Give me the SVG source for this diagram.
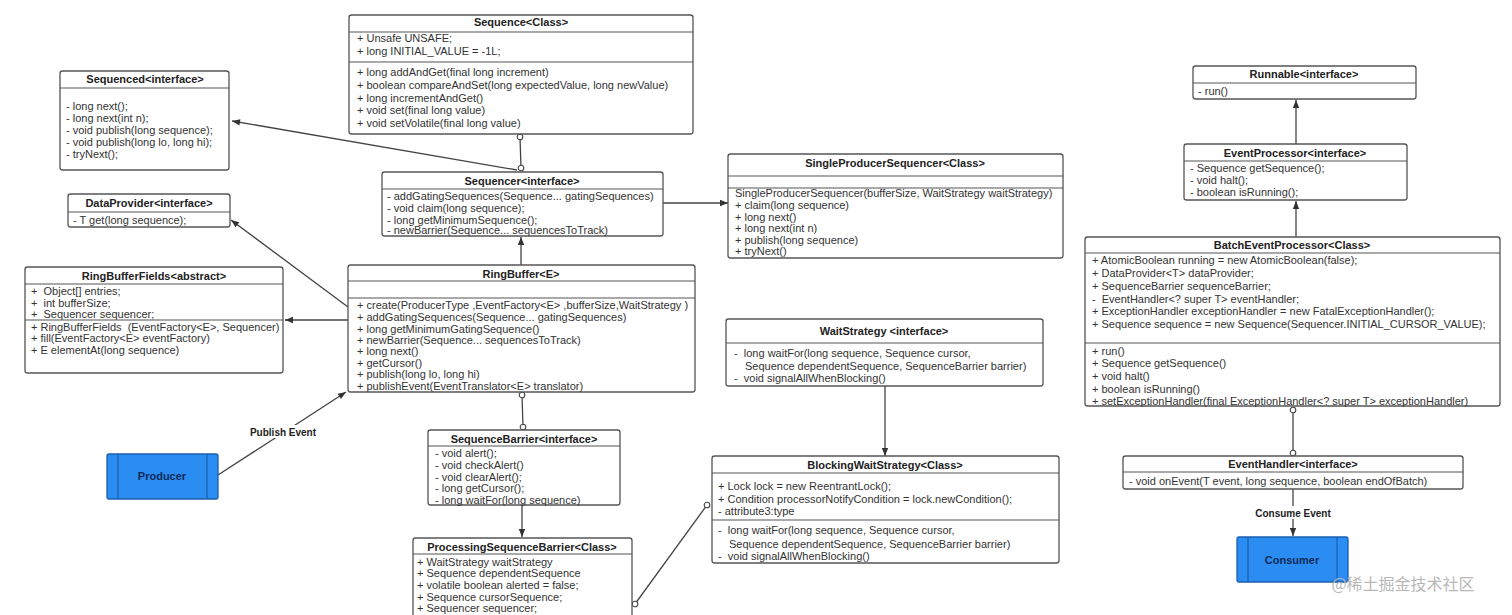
<svg xmlns="http://www.w3.org/2000/svg" width="1512" height="615" viewBox="0 0 1512 615">
<defs>
<style>
.box{fill:#fff;stroke:#555;stroke-width:1.3}
.dv{stroke:#555;stroke-width:1.2}
.t{font-family:"Liberation Sans",Arial,sans-serif;font-size:11px;fill:#333;white-space:pre}
.h{font-family:"Liberation Sans",Arial,sans-serif;font-size:11px;font-weight:bold;fill:#222;text-anchor:middle}
.c{fill:none;stroke:#444;stroke-width:1.3}
.blue{fill:#2b8cf2;stroke:#1b5fae;stroke-width:1.3}
.bl{stroke:#1b5fae;stroke-width:1.2}
.bt{font-family:"Liberation Sans",Arial,sans-serif;font-size:11px;font-weight:bold;fill:#0d2b57;text-anchor:middle}
.lbl{font-family:"Liberation Sans",Arial,sans-serif;font-size:10px;font-weight:bold;fill:#222;text-anchor:middle}
</style>
<marker id="arr" viewBox="0 0 10 10" refX="10" refY="5" markerWidth="9" markerHeight="8" orient="auto" markerUnits="userSpaceOnUse"><path d="M0,1 L10,5 L0,9 z" fill="#333"/></marker>
<marker id="circ" viewBox="0 0 8 8" refX="4" refY="4" markerWidth="8" markerHeight="8" markerUnits="userSpaceOnUse"><circle cx="4" cy="4" r="2.8" fill="#fff" stroke="#444" stroke-width="1.1"/></marker>
</defs>
<rect x="0" y="0" width="1512" height="615" fill="#fff"/>

<g id="connectors">
<line class="c" x1="520" y1="137" x2="521" y2="168" marker-start="url(#circ)" marker-end="url(#circ)"/>
<line class="c" x1="517" y1="170" x2="232" y2="121" marker-end="url(#arr)"/>
<line class="c" x1="663" y1="203" x2="728" y2="203" marker-end="url(#arr)"/>
<line class="c" x1="521" y1="265" x2="521" y2="237" marker-end="url(#arr)"/>
<line class="c" x1="348" y1="307" x2="231" y2="220" marker-end="url(#arr)"/>
<line class="c" x1="348" y1="320" x2="285" y2="320" marker-end="url(#arr)"/>
<line class="c" x1="218" y1="475" x2="346" y2="392" marker-end="url(#arr)"/>
<line class="c" x1="522" y1="395" x2="523" y2="427" marker-start="url(#circ)" marker-end="url(#circ)"/>
<line class="c" x1="522" y1="505" x2="522" y2="537" marker-end="url(#arr)"/>
<line class="c" x1="635" y1="604" x2="707" y2="505" marker-start="url(#circ)" marker-end="url(#circ)"/>
<line class="c" x1="885" y1="386" x2="885" y2="456" marker-end="url(#arr)"/>
<line class="c" x1="1296" y1="144" x2="1296" y2="100" marker-end="url(#arr)"/>
<line class="c" x1="1296" y1="237" x2="1296" y2="201" marker-end="url(#arr)"/>
<line class="c" x1="1293" y1="410" x2="1293" y2="453" marker-start="url(#circ)" marker-end="url(#circ)"/>
<line class="c" x1="1293" y1="489" x2="1293" y2="536" marker-end="url(#arr)"/>
<rect x="247" y="425" width="72" height="13" fill="#fff"/>
<text class="lbl" x="283" y="436">Publish Event</text>
<rect x="1252" y="506" width="82" height="13" fill="#fff"/>
<text class="lbl" x="1293" y="517">Consume Event</text>
</g>

<g id="Sequence">
<rect class="box" x="349" y="15" width="344" height="119" rx="2.5"/>
<text class="h" x="521" y="26">Sequence&lt;Class&gt;</text>
<line class="dv" x1="349" y1="32" x2="693" y2="32"/>
<text class="t" x="357" y="42">+ Unsafe UNSAFE;</text>
<text class="t" x="357" y="55">+ long INITIAL_VALUE = -1L;</text>
<line class="dv" x1="349" y1="62" x2="693" y2="62"/>
<text class="t" x="357" y="76">+ long addAndGet(final long increment)</text>
<text class="t" x="357" y="89">+ boolean compareAndSet(long expectedValue, long newValue)</text>
<text class="t" x="357" y="102">+ long incrementAndGet()</text>
<text class="t" x="357" y="114">+ void set(final long value)</text>
<text class="t" x="357" y="127">+ void setVolatile(final long value)</text>
</g>

<g id="Sequenced">
<rect class="box" x="60" y="71" width="169" height="99" rx="2.5"/>
<text class="h" x="145" y="83">Sequenced&lt;interface&gt;</text>
<line class="dv" x1="60" y1="88" x2="229" y2="88"/>
<text class="t" x="66" y="110">- long next();</text>
<text class="t" x="66" y="122">- long next(int n);</text>
<text class="t" x="66" y="134">- void publish(long sequence);</text>
<text class="t" x="66" y="146">- void publish(long lo, long hi);</text>
<text class="t" x="66" y="158">- tryNext();</text>
</g>

<g id="Sequencer">
<rect class="box" x="382" y="172" width="281" height="64" rx="2.5"/>
<text class="h" x="522" y="185">Sequencer&lt;interface&gt;</text>
<line class="dv" x1="382" y1="189" x2="663" y2="189"/>
<text class="t" x="387" y="200">- addGatingSequences(Sequence... gatingSequences)</text>
<text class="t" x="387" y="212">- void claim(long sequence);</text>
<text class="t" x="387" y="224">- long getMinimumSequence();</text>
<text class="t" x="387" y="234">- newBarrier(Sequence... sequencesToTrack)</text>
</g>

<g id="SingleProducerSequencer">
<rect class="box" x="728" y="154" width="335" height="104" rx="2.5"/>
<text class="h" x="895" y="167">SingleProducerSequencer&lt;Class&gt;</text>
<line class="dv" x1="728" y1="176" x2="1063" y2="176"/>
<line class="dv" x1="728" y1="188" x2="1063" y2="188"/>
<text class="t" x="735" y="197">SingleProducerSequencer(bufferSize, WaitStrategy waitStrategy)</text>
<text class="t" x="735" y="209">+ claim(long sequence)</text>
<text class="t" x="735" y="221">+ long next()</text>
<text class="t" x="735" y="232">+ long next(int n)</text>
<text class="t" x="735" y="244">+ publish(long sequence)</text>
<text class="t" x="735" y="255">+ tryNext()</text>
</g>

<g id="DataProvider">
<rect class="box" x="68" y="194" width="162" height="33" rx="2.5"/>
<text class="h" x="149" y="207">DataProvider&lt;interface&gt;</text>
<line class="dv" x1="68" y1="212" x2="230" y2="212"/>
<text class="t" x="73" y="224">- T get(long sequence);</text>
</g>

<g id="RingBufferFields">
<rect class="box" x="25" y="267" width="258" height="106" rx="2.5"/>
<text class="h" x="154" y="280">RingBufferFields&lt;abstract&gt;</text>
<line class="dv" x1="25" y1="284" x2="283" y2="284"/>
<text class="t" x="31" y="295">+  Object[] entries;</text>
<text class="t" x="31" y="307">+  int bufferSize;</text>
<text class="t" x="31" y="318">+  Sequencer sequencer;</text>
<line class="dv" x1="25" y1="320" x2="283" y2="320"/>
<text class="t" x="31" y="331">+ RingBufferFields  (EventFactory&lt;E&gt;, Sequencer)</text>
<text class="t" x="31" y="342">+ fill(EventFactory&lt;E&gt; eventFactory)</text>
<text class="t" x="31" y="354">+ E elementAt(long sequence)</text>
</g>

<g id="RingBuffer">
<rect class="box" x="348" y="265" width="347" height="127" rx="2.5"/>
<text class="h" x="521" y="278">RingBuffer&lt;E&gt;</text>
<line class="dv" x1="348" y1="281" x2="695" y2="281"/>
<line class="dv" x1="348" y1="298" x2="695" y2="298"/>
<text class="t" x="357" y="309">+ create(ProducerType ,EventFactory&lt;E&gt; ,bufferSize,WaitStrategy )</text>
<text class="t" x="357" y="321">+ addGatingSequences(Sequence... gatingSequences)</text>
<text class="t" x="357" y="333">+ long getMinimumGatingSequence()</text>
<text class="t" x="357" y="344">+ newBarrier(Sequence... sequencesToTrack)</text>
<text class="t" x="357" y="355">+ long next()</text>
<text class="t" x="357" y="367">+ getCursor()</text>
<text class="t" x="357" y="378">+ publish(long lo, long hi)</text>
<text class="t" x="357" y="390">+ publishEvent(EventTranslator&lt;E&gt; translator)</text>
</g>

<g id="WaitStrategy">
<rect class="box" x="726" y="319" width="317" height="67" rx="2.5"/>
<text class="h" x="884" y="335">WaitStrategy &lt;interface&gt;</text>
<line class="dv" x1="726" y1="343" x2="1043" y2="343"/>
<text class="t" x="734" y="357">-  long waitFor(long sequence, Sequence cursor,</text>
<text class="t" x="745" y="370">Sequence dependentSequence, SequenceBarrier barrier)</text>
<text class="t" x="734" y="382">-  void signalAllWhenBlocking()</text>
</g>

<g id="BlockingWaitStrategy">
<rect class="box" x="712" y="456" width="347" height="107" rx="2.5"/>
<text class="h" x="885" y="469">BlockingWaitStrategy&lt;Class&gt;</text>
<line class="dv" x1="712" y1="473" x2="1059" y2="473"/>
<text class="t" x="718" y="490">+ Lock lock = new ReentrantLock();</text>
<text class="t" x="718" y="503">+ Condition processorNotifyCondition = lock.newCondition();</text>
<text class="t" x="718" y="515">- attribute3:type</text>
<line class="dv" x1="712" y1="520" x2="1059" y2="520"/>
<text class="t" x="718" y="534">-  long waitFor(long sequence, Sequence cursor,</text>
<text class="t" x="729" y="548">Sequence dependentSequence, SequenceBarrier barrier)</text>
<text class="t" x="718" y="560">-  void signalAllWhenBlocking()</text>
</g>

<g id="SequenceBarrier">
<rect class="box" x="428" y="430" width="192" height="75" rx="2.5"/>
<text class="h" x="524" y="443">SequenceBarrier&lt;interface&gt;</text>
<line class="dv" x1="428" y1="446" x2="620" y2="446"/>
<text class="t" x="435" y="457">- void alert();</text>
<text class="t" x="435" y="469">- void checkAlert()</text>
<text class="t" x="435" y="481">- void clearAlert();</text>
<text class="t" x="435" y="492">- long getCursor();</text>
<text class="t" x="435" y="504">- long waitFor(long sequence)</text>
</g>

<g id="ProcessingSequenceBarrier">
<rect class="box" x="413" y="538" width="219" height="90" rx="2.5"/>
<text class="h" x="522" y="551">ProcessingSequenceBarrier&lt;Class&gt;</text>
<line class="dv" x1="413" y1="554" x2="632" y2="554"/>
<text class="t" x="417" y="566">+ WaitStrategy waitStrategy</text>
<text class="t" x="417" y="577">+ Sequence dependentSequence</text>
<text class="t" x="417" y="589">+ volatile boolean alerted = false;</text>
<text class="t" x="417" y="601">+ Sequence cursorSequence;</text>
<text class="t" x="417" y="612">+ Sequencer sequencer;</text>
</g>

<g id="Runnable">
<rect class="box" x="1193" y="66" width="223" height="33" rx="2.5"/>
<text class="h" x="1304" y="78">Runnable&lt;interface&gt;</text>
<line class="dv" x1="1193" y1="83" x2="1416" y2="83"/>
<text class="t" x="1198" y="95">- run()</text>
</g>

<g id="EventProcessor">
<rect class="box" x="1184" y="144" width="223" height="56" rx="2.5"/>
<text class="h" x="1295" y="157">EventProcessor&lt;interface&gt;</text>
<line class="dv" x1="1184" y1="161" x2="1407" y2="161"/>
<text class="t" x="1190" y="172">- Sequence getSequence();</text>
<text class="t" x="1190" y="184">- void halt();</text>
<text class="t" x="1190" y="196">- boolean isRunning();</text>
</g>

<g id="BatchEventProcessor">
<rect class="box" x="1085" y="237" width="415" height="169" rx="2.5"/>
<text class="h" x="1292" y="249">BatchEventProcessor&lt;Class&gt;</text>
<line class="dv" x1="1085" y1="253" x2="1500" y2="253"/>
<text class="t" x="1092" y="264">+ AtomicBoolean running = new AtomicBoolean(false);</text>
<text class="t" x="1092" y="277">+ DataProvider&lt;T&gt; dataProvider;</text>
<text class="t" x="1092" y="290">+ SequenceBarrier sequenceBarrier;</text>
<text class="t" x="1092" y="303">-  EventHandler&lt;? super T&gt; eventHandler;</text>
<text class="t" x="1092" y="315">+ ExceptionHandler exceptionHandler = new FatalExceptionHandler();</text>
<text class="t" x="1092" y="328">+ Sequence sequence = new Sequence(Sequencer.INITIAL_CURSOR_VALUE);</text>
<line class="dv" x1="1085" y1="343" x2="1500" y2="343"/>
<text class="t" x="1092" y="355">+ run()</text>
<text class="t" x="1092" y="367">+ Sequence getSequence()</text>
<text class="t" x="1092" y="380">+ void halt()</text>
<text class="t" x="1092" y="393">+ boolean isRunning()</text>
<text class="t" x="1092" y="405">+ setExceptionHandler(final ExceptionHandler&lt;? super T&gt; exceptionHandler)</text>
</g>

<g id="EventHandler">
<rect class="box" x="1123" y="456" width="340" height="33" rx="2.5"/>
<text class="h" x="1293" y="468">EventHandler&lt;interface&gt;</text>
<line class="dv" x1="1123" y1="472" x2="1463" y2="472"/>
<text class="t" x="1129" y="485">- void onEvent(T event, long sequence, boolean endOfBatch)</text>
</g>

<g id="Producer">
<rect class="blue" x="107" y="454" width="111" height="45" rx="2"/>
<line class="bl" x1="118" y1="454" x2="118" y2="499"/>
<line class="bl" x1="207" y1="454" x2="207" y2="499"/>
<text class="bt" x="162" y="480">Producer</text>
</g>

<g id="Consumer">
<rect class="blue" x="1237" y="537" width="111" height="45" rx="2"/>
<line class="bl" x1="1248" y1="537" x2="1248" y2="582"/>
<line class="bl" x1="1337" y1="537" x2="1337" y2="582"/>
<text class="bt" x="1292" y="564">Consumer</text>
</g>

<text x="1403" y="590" text-anchor="middle" font-family="'Noto Sans CJK SC','Liberation Sans',sans-serif" font-size="16" fill="#b8b8b8">@稀土掘金技术社区</text>
</svg>
